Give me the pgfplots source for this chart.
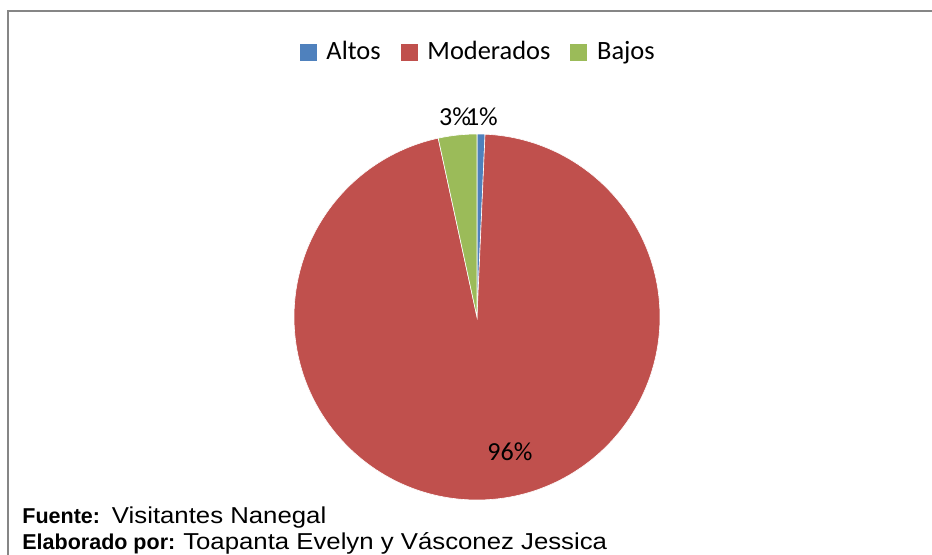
\documentclass[border=0pt]{standalone}
\usepackage{fontspec}
\setmainfont{Carlito}
\newfontfamily\footfont{Liberation Sans}
\newfontfamily\footwide{Liberation Sans}[FakeStretch=1.12]
\usepackage{pgfplots}
\usepackage{pgfplotstable}
\pgfplotsset{compat=1.18}
\definecolor{altos}{HTML}{4F81BD}
\definecolor{moder}{HTML}{C0504D}
\definecolor{bajos}{HTML}{9BBB59}
\definecolor{framegray}{RGB}{134,134,134}
\pgfplotstableread{
label value
Altos 0.7
Moderados 95.9
Bajos 3.4
}\piedata
\begin{document}
\begin{tikzpicture}
\useasboundingbox (0pt,0pt) rectangle (466pt,277pt);
\pgfplotstablegetelem{0}{value}\of\piedata \let\vA\pgfplotsretval
\pgfplotstablegetelem{1}{value}\of\piedata \let\vB\pgfplotsretval
\pgfplotstablegetelem{2}{value}\of\piedata \let\vC\pgfplotsretval
\pgfmathsetmacro\eA{90-3.6*\vA}
\pgfmathsetmacro\eB{\eA-3.6*\vB}
\pgfmathsetmacro\eC{\eB-3.6*\vC}
\draw[framegray, line width=1pt] (470pt,271.5pt) -- (4pt,271.5pt) -- (4pt,-5pt);
\begin{axis}[
  at={(238.5pt,118.5pt)}, anchor=center,
  width=183pt, height=183pt, scale only axis,
  xmin=-1, xmax=1, ymin=-1, ymax=1,
  hide axis, clip=false,
  legend columns=3,
  legend style={draw=none, fill=none, at={(0.506,1.224)}, anchor=center,
    font=\fontsize{13.2}{15}\selectfont,
    /tikz/every even column/.append style={column sep=8pt},
    /tikz/every odd column/.append style={column sep=3pt}},
  legend image code/.code={\fill[#1] (0pt,-4pt) rectangle (8pt,4pt);},
]
\fill[altos, draw=white, line width=0.3pt] (axis cs:0,0) -- (axis cs:0,1) arc[start angle=90, end angle=\eA, radius=91.5pt] -- cycle;
\fill[moder, draw=white, line width=0.3pt] (axis cs:0,0) -- (axis cs:{cos(\eA)},{sin(\eA)}) arc[start angle=\eA, end angle=\eB, radius=91.5pt] -- cycle;
\fill[bajos, draw=white, line width=0.3pt] (axis cs:0,0) -- (axis cs:{cos(\eB)},{sin(\eB)}) arc[start angle=\eB, end angle=\eC, radius=91.5pt] -- cycle;
\addlegendimage{altos}
\addlegendentry{Altos}
\addlegendimage{moder}
\addlegendentry{Moderados}
\addlegendimage{bajos}
\addlegendentry{Bajos}
\node[font=\fontsize{13}{15}\selectfont] at (axis cs:-0.12,1.093) {3\%};
\node[font=\fontsize{13}{15}\selectfont] at (axis cs:0.027,1.093) {1\%};
\node[font=\fontsize{13}{15}\selectfont] at (axis cs:0.18,-0.738) {96\%};
\end{axis}
\node[anchor=base west, inner sep=0pt, font=\footfont\fontsize{10.75}{12}\selectfont] at (11pt,15.5pt) {\textbf{Fuente:}\ \ {\footwide\fontsize{11.5}{12}\selectfont Visitantes Nanegal}};
\node[anchor=base west, inner sep=0pt, font=\footfont\fontsize{10.75}{12}\selectfont] at (11pt,2.5pt) {\textbf{Elaborado por:} {\footwide\fontsize{11.5}{12}\selectfont Toapanta Evelyn y Vásconez Jessica}};
\end{tikzpicture}
\end{document}
